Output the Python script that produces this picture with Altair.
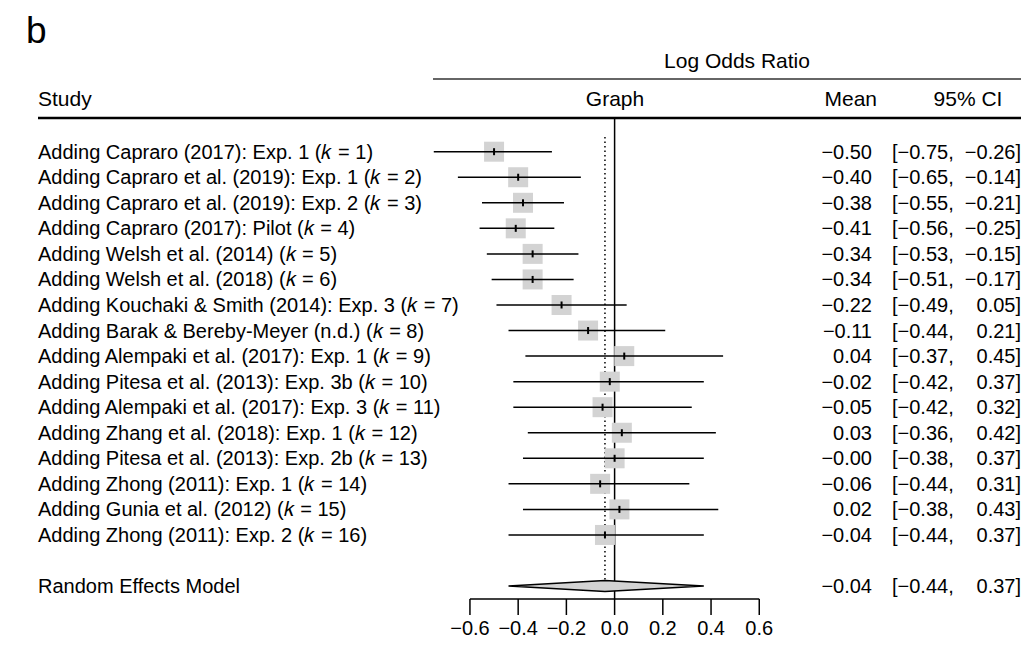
import altair as alt
import pandas as pd

# ---------------- data ----------------
studies = [
    "Adding Capraro (2017): Exp. 1 (\U0001D458 = 1)",
    "Adding Capraro et al. (2019): Exp. 1 (\U0001D458 = 2)",
    "Adding Capraro et al. (2019): Exp. 2 (\U0001D458 = 3)",
    "Adding Capraro (2017): Pilot (\U0001D458 = 4)",
    "Adding Welsh et al. (2014) (\U0001D458 = 5)",
    "Adding Welsh et al. (2018) (\U0001D458 = 6)",
    "Adding Kouchaki & Smith (2014): Exp. 3 (\U0001D458 = 7)",
    "Adding Barak & Bereby-Meyer (n.d.) (\U0001D458 = 8)",
    "Adding Alempaki et al. (2017): Exp. 1 (\U0001D458 = 9)",
    "Adding Pitesa et al. (2013): Exp. 3b (\U0001D458 = 10)",
    "Adding Alempaki et al. (2017): Exp. 3 (\U0001D458 = 11)",
    "Adding Zhang et al. (2018): Exp. 1 (\U0001D458 = 12)",
    "Adding Pitesa et al. (2013): Exp. 2b (\U0001D458 = 13)",
    "Adding Zhong (2011): Exp. 1 (\U0001D458 = 14)",
    "Adding Gunia et al. (2012) (\U0001D458 = 15)",
    "Adding Zhong (2011): Exp. 2 (\U0001D458 = 16)",
]
means = [-0.50, -0.40, -0.38, -0.41, -0.34, -0.34, -0.22, -0.11, 0.04, -0.02, -0.05, 0.03, -0.00, -0.06, 0.02, -0.04]
lows = [-0.75, -0.65, -0.55, -0.56, -0.53, -0.51, -0.49, -0.44, -0.37, -0.42, -0.42, -0.36, -0.38, -0.44, -0.38, -0.44]
highs = [-0.26, -0.14, -0.21, -0.25, -0.15, -0.17, 0.05, 0.21, 0.45, 0.37, 0.32, 0.42, 0.37, 0.31, 0.43, 0.37]

re_label = "Random Effects Model"
re_mean, re_lo, re_hi = -0.04, -0.44, 0.37

tick_values = [-0.6, -0.4, -0.2, 0.0, 0.2, 0.4, 0.6]

panel_letter = "b"
header_group = "Log Odds Ratio"
header_study = "Study"
header_graph = "Graph"
header_mean = "Mean"
header_ci = "95% CI"

# ---------------- tables ----------------
def fmt(v, d=2):
    return f"{v:.{d}f}".replace("-", "\u2212")

study_rows = list(range(len(studies)))
re_row = len(studies) + 1

df = pd.DataFrame({"study": studies, "mean": means, "lo": lows, "hi": highs, "row": study_rows})
txt = pd.DataFrame({
    "label": studies + [re_label],
    "row": study_rows + [re_row],
    "mean_txt": [fmt(v) for v in means + [re_mean]],
    "ci_l": ["[" + fmt(v) + "," for v in lows + [re_lo]],
    "ci_r": [fmt(v) + "]" for v in highs + [re_hi]],
})
half = 0.215
diamond = pd.DataFrame({
    "x": [re_lo, re_mean, re_hi],
    "yt": [re_row, re_row - half, re_row],
    "yb": [re_row, re_row + half, re_row],
})
ticks = pd.DataFrame({"v": tick_values, "lab": [fmt(v, 1) for v in tick_values]})

W, H = 1013, 631
FONT = "Liberation Sans, Arial, Helvetica, sans-serif"
xs = alt.Scale(domain=[-2.5160, 1.6856], nice=False, zero=False)
ys = alt.Scale(domain=[-5.624, 19.073], nice=False, zero=False, reverse=True)

def X(f):
    return alt.X(f, type="quantitative", scale=xs, axis=None)

def Y(f):
    return alt.Y(f, type="quantitative", scale=ys, axis=None)

base = alt.Chart(df)

squares = base.mark_square(size=400, color="#d3d3d3", opacity=1).encode(
    x=X("mean"), y=Y("row"))
ci_lines = base.mark_rule(color="black", strokeWidth=1.5).encode(
    x=X("lo"), x2="hi", y=Y("row"))
centre = base.mark_tick(orient="vertical", size=7, thickness=2, color="black", opacity=1).encode(
    x=X("mean"), y=Y("row"))

one = pd.DataFrame({"z": [0]})
zero_line = alt.Chart(one).mark_rule(color="black", strokeWidth=1.5).encode(
    x=alt.X(datum=0, type="quantitative", scale=xs, axis=None),
    y=alt.value(110), y2=alt.value(591))
dotted = alt.Chart(one).mark_rule(color="black", strokeWidth=1.5, strokeDash=[1.5, 3]).encode(
    x=alt.X(datum=re_mean, type="quantitative", scale=xs, axis=None),
    y=alt.value(129), y2=alt.value(578))

dia = alt.Chart(diamond).mark_area(fill="#d3d3d3", stroke="black", strokeWidth=1.5, opacity=1).encode(
    x=X("x"), y=Y("yt"), y2="yb")

axis_line = alt.Chart(one).mark_rule(color="black", strokeWidth=1.5).encode(
    x=alt.X(datum=tick_values[0], type="quantitative", scale=xs, axis=None),
    x2=alt.X2(datum=tick_values[-1]),
    y=alt.value(591))
axis_ticks = alt.Chart(ticks).mark_rule(color="black", strokeWidth=1.5).encode(
    x=X("v"), y=alt.value(591), y2=alt.value(607))
axis_labels = alt.Chart(ticks).mark_text(font=FONT, fontSize=20, align="center", baseline="alphabetic", color="black").encode(
    x=X("v"), y=alt.value(627), text="lab:N")

tb = alt.Chart(txt)
study_text = tb.mark_text(font=FONT, fontSize=20, align="left", baseline="alphabetic", dy=7, color="black").encode(
    x=alt.value(30), y=Y("row"), text="label:N")
mean_text = tb.mark_text(font=FONT, fontSize=20, align="right", baseline="alphabetic", dy=7, color="black").encode(
    x=alt.value(864), y=Y("row"), text="mean_txt:N")
cil_text = tb.mark_text(font=FONT, fontSize=20, align="left", baseline="alphabetic", dy=7, color="black").encode(
    x=alt.value(884), y=Y("row"), text="ci_l:N")
cir_text = tb.mark_text(font=FONT, fontSize=20, align="right", baseline="alphabetic", dy=7, color="black").encode(
    x=alt.value(1013), y=Y("row"), text="ci_r:N")

def htext(s, x, y, align, size=21):
    return alt.Chart(pd.DataFrame({"t": [s]})).mark_text(
        font=FONT, fontSize=size, align=align, baseline="alphabetic", color="black"
    ).encode(x=alt.value(x), y=alt.value(y), text="t:N")

letter = htext(panel_letter, 18, 35, "left", size=37)
h_group = htext(header_group, 729, 60, "center")
h_study = htext(header_study, 30, 98, "left")
h_graph = htext(header_graph, 607, 98, "center")
h_mean = htext(header_mean, 869, 98, "right")
h_ci = htext(header_ci, 960, 98, "center")

gray_line = alt.Chart(one).mark_rule(color="#333333", strokeWidth=1.5).encode(
    x=alt.value(425), x2=alt.value(W), y=alt.value(71))
black_line = alt.Chart(one).mark_rule(color="black", strokeWidth=2.5).encode(
    x=alt.value(30), x2=alt.value(W), y=alt.value(110))

chart = alt.layer(
    gray_line, black_line,
    dotted, zero_line,
    squares, ci_lines, centre,
    dia,
    axis_line, axis_ticks, axis_labels,
    study_text, mean_text, cil_text, cir_text,
    letter, h_group, h_study, h_graph, h_mean, h_ci,
).properties(
    width=W, height=H, padding=0, autosize="none", background="white"
).configure_view(stroke=None)

chart.save("out.html", embed_options={"renderer": "svg", "actions": False})
